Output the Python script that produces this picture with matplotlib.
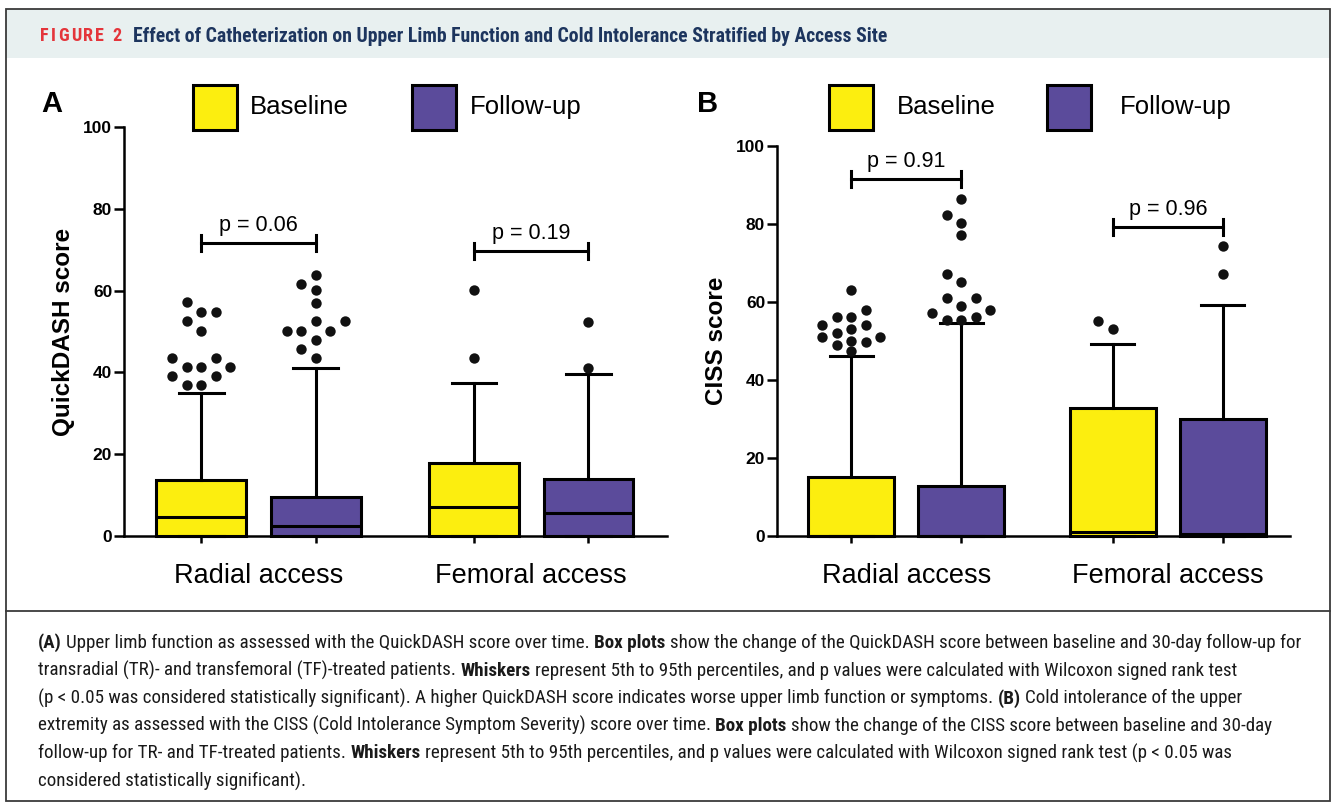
import numpy as np
import matplotlib
matplotlib.use("Agg")
import matplotlib.pyplot as plt
from matplotlib import font_manager
from matplotlib.patches import Rectangle
from matplotlib.lines import Line2D

W, H = 1336, 807

groups = ["Radial access", "Femoral access"]
series = ["Baseline", "Follow-up"]
colors = ["#fcee0f", "#5b4b9b"]

# order of boxes: radial baseline, radial follow-up, femoral baseline, femoral follow-up
dash_q3 = [13.7, 9.6, 17.8, 13.9]
dash_med = [4.6, 2.5, 7.0, 5.7]
dash_whi = [35.0, 41.1, 37.3, 39.6]
dash_out = [
    [57.2, 54.7, 54.7, 52.5, 50.2, 43.4, 43.4, 41.3, 41.3, 41.3, 39.0, 39.0, 36.8, 36.8],
    [63.8, 61.7, 60.1, 57.0, 52.5, 52.5, 50.2, 50.2, 50.2, 48.0, 45.8, 43.4],
    [60.1, 43.4],
    [52.4, 41.1],
]
dash_p = ["p = 0.06", "p = 0.19"]
dash_bracket = [71.6, 69.7]

ciss_q3 = [15.0, 12.8, 32.9, 29.9]
ciss_med = [0.0, 0.0, 1.0, 0.5]
ciss_whi = [46.2, 54.6, 49.1, 59.2]
ciss_out = [
    [63.0, 58.0, 56.1, 56.1, 54.1, 54.1, 53.1, 52.1, 51.1, 51.1, 50.0, 49.8, 49.0, 47.3],
    [86.3, 82.3, 80.2, 77.2, 67.1, 65.0, 61.1, 61.1, 59.0, 57.9, 57.1, 56.1, 55.4, 55.4],
    [55.0, 53.0],
    [74.2, 67.1],
]
ciss_p = ["p = 0.91", "p = 0.96"]
ciss_bracket = [91.5, 79.1]

header_tag = "FIGURE 2"
header_title = "Effect of Catheterization on Upper Limb Function and Cold Intolerance Stratified by Access Site"
caption = [
    [("(A)", 1), (" Upper limb function as assessed with the QuickDASH score over time. ", 0), ("Box plots", 1),
     (" show the change of the QuickDASH score between baseline and 30-day follow-up for", 0)],
    [("transradial (TR)- and transfemoral (TF)-treated patients. ", 0), ("Whiskers", 1),
     (" represent 5th to 95th percentiles, and p values were calculated with Wilcoxon signed rank test", 0)],
    [("(p < 0.05 was considered statistically significant). A higher QuickDASH score indicates worse upper limb function or symptoms. ", 0),
     ("(B)", 1), (" Cold intolerance of the upper", 0)],
    [("extremity as assessed with the CISS (Cold Intolerance Symptom Severity) score over time. ", 0), ("Box plots", 1),
     (" show the change of the CISS score between baseline and 30-day", 0)],
    [("follow-up for TR- and TF-treated patients. ", 0), ("Whiskers", 1),
     (" represent 5th to 95th percentiles, and p values were calculated with Wilcoxon signed rank test (p < 0.05 was", 0)],
    [("considered statistically significant).", 0)],
]

installed = {f.name for f in font_manager.fontManager.ttflist}
cond = next((f for f in ["Roboto Condensed", "Liberation Sans Narrow", "Open Sans Condensed"] if f in installed), "DejaVu Sans")
chart_font = "Liberation Sans" if "Liberation Sans" in installed else "DejaVu Sans"
plt.rcParams["font.family"] = chart_font

fig = plt.figure(figsize=(W / 100, H / 100), dpi=100)
R = fig.canvas.get_renderer()


def fx(px):
    return px / W


def fy(py):
    return 1 - py / H


# frame and header band
fig.add_artist(Rectangle((fx(6), fy(58)), fx(1330) - fx(6), fy(9) - fy(58), transform=fig.transFigure,
                         facecolor="#e8f0f0", edgecolor="none", zorder=0))
fig.add_artist(Rectangle((fx(6), fy(801)), fx(1330) - fx(6), fy(9) - fy(801), transform=fig.transFigure,
                         facecolor="none", edgecolor="#3a3a3a", lw=1.3, zorder=1))
fig.add_artist(Line2D([fx(6), fx(1330)], [fy(611), fy(611)], transform=fig.transFigure, color="#3a3a3a", lw=1.3))


def fit(x, y, s, width, **kw):
    t = fig.text(fx(x), fy(y), s, fontsize=10, va="center", **kw)
    w = t.get_window_extent(R).width
    t.set_fontsize(10 * width / w)
    return t


def text_w(s, size, bold, family=None):
    t = fig.text(0, 0, s, fontsize=size, family=family or cond, fontweight="bold" if bold else "normal")
    w = t.get_window_extent(R).width
    t.remove()
    return w


title = fit(133, 36, header_title, 753, family=cond, fontweight="bold", color="#1d355e")

# letter-spaced tag
tag_size = title.get_fontsize() * 0.92
glyph_w = [text_w(c, tag_size, 1) if c != " " else text_w("a a", tag_size, 1) - text_w("aa", tag_size, 1)
           for c in header_tag]
track = (82 - sum(glyph_w)) / (len(header_tag) - 1)
x = 40
for c, gw in zip(header_tag, glyph_w):
    if c != " ":
        fig.text(fx(x), fy(36), c, fontsize=tag_size, family=cond, fontweight="bold", color="#e4353b", va="center")
    x += gw + track


def rich(x, y, parts, size, draw=True):
    sp = text_w("a a", size, 0) - text_w("aa", size, 0)
    for s, b in parts:
        if s.startswith(" "):
            x += sp
        core = s.strip()
        if draw:
            fig.text(fx(x), fy(y), core, fontsize=size, family=cond, va="center", color="#1a1a1a",
                     fontweight="bold" if b else "normal")
        x += text_w(core, size, b)
        if s.endswith(" "):
            x += sp
    return x


size = 10 * 1259 / (rich(0, 0, caption[0], 10, draw=False))
for i, line in enumerate(caption):
    rich(38, 643 + i * 27.6, line, size)


def swarm(ax, x0, vals, d=10.5, step=14.5):
    placed = []
    for v in sorted(vals):
        px0, py = ax.transData.transform((x0, v))
        for k in [0, -1, 1, -2, 2, -3, 3, -4, 4]:
            px = px0 + k * step
            if all(np.hypot(px - a, py - b) >= d for a, b in placed):
                break
        placed.append((px, py))
    pts = ax.transData.inverted().transform(placed)
    ax.scatter(pts[:, 0], pts[:, 1], s=56, color="#111111", zorder=6, clip_on=False, linewidths=0)


def panel(ax, q3, med, whi, outs, ptxt, bh, ylabel, xmax, letter, lx, legx, ylx):
    half, width = 0.21, 0.33
    pos = [g + (s - 0.5) * 2 * half for g in range(len(groups)) for s in range(len(series))]
    stats = [dict(med=m, q1=0, q3=q, whislo=0, whishi=w, fliers=[]) for m, q, w in zip(med, q3, whi)]
    ax.set_xlim(-0.494, xmax)
    ax.set_ylim(0, 100)
    bp = ax.bxp(stats, positions=pos, widths=width, capwidths=width / 2, patch_artist=True, showfliers=False,
                boxprops=dict(lw=2.2, edgecolor="k"), whiskerprops=dict(lw=2.2, color="k"),
                capprops=dict(lw=2.2, color="k"), medianprops=dict(lw=2.2, color="k"))
    for i, b in enumerate(bp["boxes"]):
        b.set_facecolor(colors[i % 2])
        b.set_clip_on(False)
    for k in ("whiskers", "caps", "medians"):
        for l in bp[k]:
            l.set_clip_on(False)
    for p, o in zip(pos, outs):
        swarm(ax, p, o)
    for g in range(len(groups)):
        x1, x2 = pos[2 * g], pos[2 * g + 1]
        ax.plot([x1, x2], [bh[g], bh[g]], color="k", lw=2.2, clip_on=False)
        for xx in (x1, x2):
            ax.plot([xx, xx], [bh[g] - 2, bh[g] + 2], color="k", lw=2.2, clip_on=False)
        ax.annotate(ptxt[g], (g, bh[g]), xytext=(0, 8.5), textcoords="offset points", ha="center",
                    va="baseline", fontsize=15.5)
        ax.annotate(groups[g], (g, 0), xytext=(0, -29), textcoords="offset points", ha="center",
                    va="center", fontsize=19.5, annotation_clip=False)
    ax.set_xticks(pos)
    ax.set_xticklabels([])
    ax.set_yticks(range(0, 101, 20))
    ax.tick_params(axis="x", length=5, width=1.8, direction="out")
    ax.tick_params(axis="y", length=7, width=1.8, direction="out", labelsize=12.5, pad=1.5)
    for t in ax.get_yticklabels():
        t.set_fontweight("bold")
    for s in ("top", "right"):
        ax.spines[s].set_visible(False)
    for s in ("left", "bottom"):
        ax.spines[s].set_linewidth(1.8)
    ax.set_ylabel(ylabel, fontsize=17.5, fontweight="bold")
    ax.yaxis.set_label_coords(ylx, 0.5)
    fig.text(fx(lx), fy(104), letter, fontsize=21, fontweight="bold", ha="center", va="center")
    for (sx, tx), c, name in zip(legx, colors, series):
        fig.add_artist(Rectangle((fx(sx), fy(130)), 44 / W, 45 / H, transform=fig.transFigure,
                                 facecolor=c, edgecolor="k", lw=2.2))
        fig.text(fx(tx), fy(107), name, fontsize=18.5, va="center")


axA = fig.add_axes([fx(124), fy(536), 543 / W, 409 / H])
axB = fig.add_axes([fx(777), fy(536), 513 / W, 390.3 / H])
axA.patch.set_alpha(0)
axB.patch.set_alpha(0)
panel(axA, dash_q3, dash_med, dash_whi, dash_out, dash_p, dash_bracket, "QuickDASH score", 1.498, "A", 52,
      [(193, 250), (412, 470)], -0.09)
panel(axB, ciss_q3, ciss_med, ciss_whi, ciss_out, ciss_p, ciss_bracket, "CISS score", 1.467, "B", 708,
      [(829, 897), (1047, 1120)], -0.095)

fig.savefig("out.png", dpi=100)
